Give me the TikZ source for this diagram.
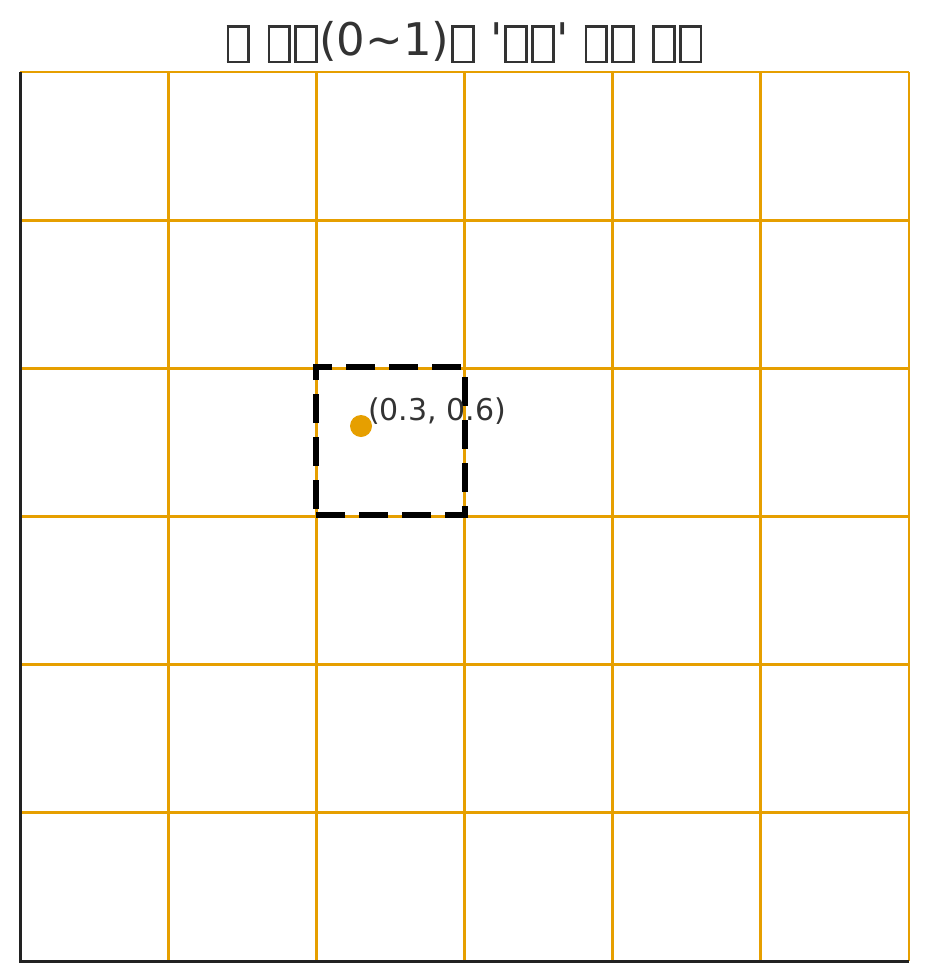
\documentclass[tikz,border=0pt]{standalone}
\usepackage{fontspec}
\newfontfamily\plotfont{DejaVu Sans}
\usepackage{tikz}
\usetikzlibrary{positioning}
\definecolor{gridorange}{HTML}{E69F00}
\definecolor{spinegray}{HTML}{222222}
\definecolor{textgray}{HTML}{333333}
% missing-glyph box as printed in the title
\newcommand{\tofu}{\makebox[26.7pt]{\raisebox{-5.7pt}{\setlength{\fboxsep}{0pt}\setlength{\fboxrule}{2.6pt}\fbox{\rule{0pt}{33.2pt}\hspace{18.2pt}}}}}

\begin{document}
\begin{tikzpicture}[
  x=1pt, y=-1pt,
  gridline/.style={draw=gridorange, line width=2.8pt},
  spine/.style={draw=spinegray, line width=3pt},
  cellbox/.style={draw=black, line width=6.5pt, dash pattern=on 29pt off 14pt},
  dot/.style={circle, fill=gridorange, inner sep=0pt, minimum size=22pt},
  pointlabel/.style={font=\plotfont\fontsize{30}{36}\selectfont, text=textgray, inner sep=0pt},
  titlestyle/.style={font=\plotfont\fontsize{45}{54}\selectfont, text=textgray, inner sep=0pt},
]
  \useasboundingbox (0,0) rectangle (929,980);

  % grid
  \foreach \k in {0,...,6} {
    \draw[gridline] ({20+\k*148.17},72) -- ({20+\k*148.17},961);
    \draw[gridline] (20,{72+\k*148.17}) -- (909,{72+\k*148.17});
  }
  \draw[spine] (20,72) -- (20,961) -- (909,961);

  % highlighted cell
  \coordinate (cellbl) at (316,515);
  \coordinate (celltr) at (465,367);
  \draw[cellbox] (cellbl) -- (cellbl -| celltr) -- (celltr) -- (celltr -| cellbl) -- cycle;

  \node[dot] (pt) at (361,426) {};
  \node[pointlabel, anchor=base west] (ptlabel) at (368,420) {(0.3, 0.6)};

  \node[titlestyle, anchor=base] (title) at (464.5,55)
    {\tofu{} \tofu\tofu(0\textasciitilde 1)\tofu{} '\tofu\tofu' \tofu\tofu{} \tofu\tofu};
\end{tikzpicture}
\end{document}
